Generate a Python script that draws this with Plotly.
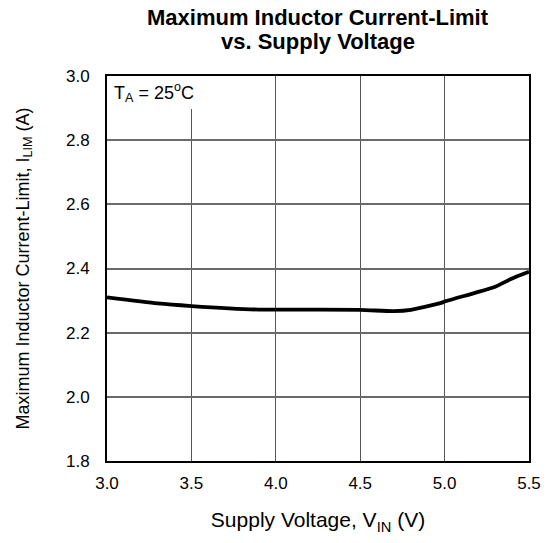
import plotly.graph_objects as go

vin = [3.0, 3.3, 3.5, 3.9, 4.0, 4.5, 4.7, 4.8, 4.98, 5.0, 5.18, 5.3, 5.4, 5.5]
ilim = [2.31, 2.291, 2.283, 2.272, 2.272, 2.271, 2.267, 2.271, 2.293, 2.297, 2.324, 2.343, 2.369, 2.39]

x_ticks = [3.0, 3.5, 4.0, 4.5, 5.0, 5.5]
y_ticks = [1.8, 2.0, 2.2, 2.4, 2.6, 2.8, 3.0]

title_lines = ["Maximum Inductor Current-Limit", "vs. Supply Voltage"]

font = "Liberation Sans, Arial, sans-serif"
W, H = 553, 543
L, R, T, B = 107, 22, 76, 82

fig = go.Figure()
fig.add_trace(go.Scatter(x=vin, y=ilim, mode="lines",
                         line=dict(color="black", width=3.8, shape="spline", smoothing=0.6),
                         showlegend=False, hoverinfo="skip"))

fig.add_shape(type="rect", xref="x", yref="y", x0=3.0, x1=3.56, y0=2.897, y1=3.0,
              fillcolor="white", line=dict(width=0), layer="between")

fig.add_annotation(x=3.0, y=3.0, xref="x", yref="y", xanchor="left", yanchor="top",
                   xshift=5, yshift=-2, showarrow=False,
                   text="T<sub>A</sub> = 25<sup>o</sup>C",
                   font=dict(family=font, size=18, color="black"))

for txt, ypix in zip(title_lines, [17, 41]):
    fig.add_annotation(x=0.5, xref="paper", y=1 + (T - ypix) / (H - T - B), yref="paper",
                       xanchor="center", yanchor="middle", showarrow=False,
                       text=f"<b>{txt}</b>",
                       font=dict(family=font, size=22, color="black"))

fig.update_layout(
    width=W, height=H,
    margin=dict(l=L, r=R, t=T, b=B, pad=0),
    paper_bgcolor="white", plot_bgcolor="white",
    font=dict(family=font, size=17, color="black"),
)
fig.update_xaxes(range=[3.0, 5.5], tickvals=x_ticks, ticktext=[f"{v:.1f}" for v in x_ticks],
                 showgrid=True, gridcolor="#555555", gridwidth=1.2,
                 showline=True, linecolor="black", linewidth=2, mirror=True,
                 ticks="", zeroline=False, ticklabelstandoff=6,
                 title=dict(text="Supply Voltage, V<sub>IN</sub> (V)", standoff=20,
                            font=dict(family=font, size=21)),
                 tickfont=dict(family=font, size=17))
fig.update_yaxes(range=[1.8, 3.0], tickvals=y_ticks, ticktext=[f"{v:.1f}" for v in y_ticks],
                 showgrid=True, gridcolor="#6a6a6a", gridwidth=1.5,
                 showline=True, linecolor="black", linewidth=2, mirror=True,
                 ticks="", zeroline=False, ticklabelstandoff=12,
                 title=dict(text="Maximum Inductor Current-Limit, I<sub>LIM</sub> (A)", standoff=32,
                            font=dict(family=font, size=18)),
                 tickfont=dict(family=font, size=17))

fig.write_html("out.html", config={"displayModeBar": False},
               post_script="document.body.style.margin='0px';document.body.style.overflow='hidden';")
